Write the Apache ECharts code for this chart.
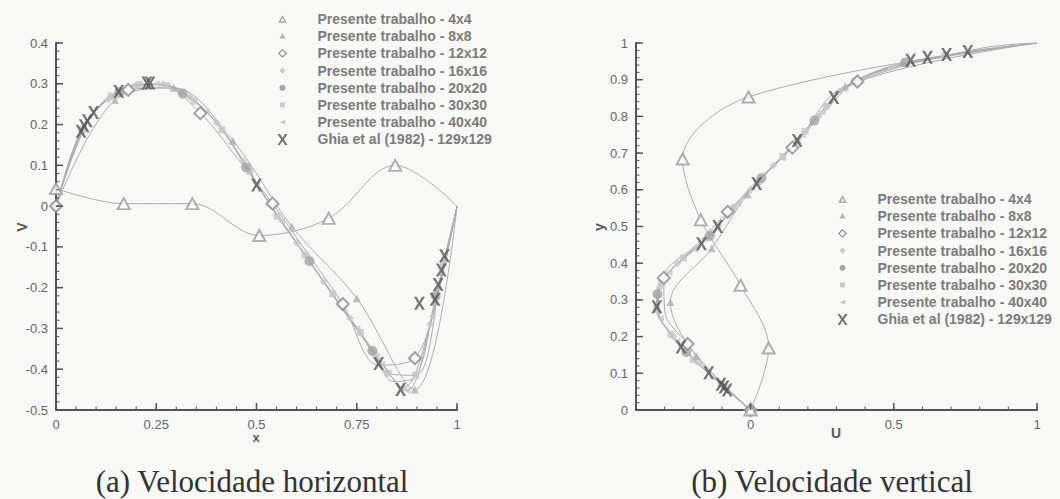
<!DOCTYPE html>
<html>
<head>
<meta charset="utf-8">
<script src="https://cdn.jsdelivr.net/npm/echarts@6/dist/echarts.min.js"></script>
<style>
html,body{margin:0;padding:0;background:#f8f8f6;}
#c{width:1060px;height:499px;}
</style>
</head>
<body>
<div id="c"></div>
<script>
// ================= DATA =================
const seriesNames = [
  'Presente trabalho - 4x4',
  'Presente trabalho - 8x8',
  'Presente trabalho - 12x12',
  'Presente trabalho - 16x16',
  'Presente trabalho - 20x20',
  'Presente trabalho - 30x30',
  'Presente trabalho - 40x40',
  'Ghia et al (1982) - 129x129'
];

// (a) horizontal centreline: x -> V
const x4  = [0, 0.169, 0.34, 0.507, 0.68, 0.846, 1];
const v4  = [0.043, 0.006, 0.006, -0.072, -0.03, 0.10, 0];
const x8  = [0, 0.147, 0.294, 0.441, 0.588, 0.75, 0.895, 1];
const v8  = [0, 0.26, 0.29, 0.16, -0.05, -0.226, -0.45, 0];
const x12 = [0, 0.09, 0.18, 0.27, 0.36, 0.45, 0.54, 0.63, 0.715, 0.805, 0.895, 0.985, 1];
const v12 = [0, 0.225, 0.285, 0.29, 0.228, 0.12, 0.006, -0.12, -0.24, -0.39, -0.373, -0.07, 0];
const x16 = [0, 0.067, 0.133, 0.2, 0.267, 0.333, 0.4, 0.467, 0.533, 0.6, 0.667, 0.733, 0.8, 0.867, 0.933, 1];
const v16 = [0, 0.19, 0.265, 0.296, 0.298, 0.268, 0.205, 0.11, 0.005, -0.09, -0.185, -0.275, -0.365, -0.445, -0.29, 0];
const x20 = [0, 0.053, 0.105, 0.158, 0.211, 0.263, 0.316, 0.368, 0.421, 0.474, 0.526, 0.579, 0.632, 0.684, 0.737, 0.789, 0.842, 0.895, 0.947, 1];
const v20 = [0, 0.165, 0.24, 0.28, 0.299, 0.299, 0.276, 0.24, 0.178, 0.095, 0.015, -0.06, -0.135, -0.21, -0.285, -0.355, -0.43, -0.42, -0.22, 0];
const x30 = [0, 0.069, 0.138, 0.207, 0.276, 0.345, 0.414, 0.483, 0.552, 0.621, 0.69, 0.759, 0.828, 0.897, 0.966, 1];
const v30 = [0, 0.19, 0.27, 0.298, 0.296, 0.258, 0.187, 0.085, -0.025, -0.12, -0.215, -0.31, -0.41, -0.415, -0.14, 0];
const x40 = [0, 0.0625, 0.125, 0.1875, 0.25, 0.3125, 0.375, 0.4375, 0.5, 0.5625, 0.625, 0.6875, 0.75, 0.8125, 0.875, 0.9375, 1];
const v40 = [0, 0.185, 0.26, 0.294, 0.30, 0.28, 0.232, 0.155, 0.055, -0.037, -0.125, -0.213, -0.30, -0.388, -0.452, -0.27, 0];
const xGhia = [0.0625, 0.0703, 0.0781, 0.0938, 0.1563, 0.2266, 0.2344, 0.5, 0.8047, 0.8594, 0.9063, 0.9453, 0.9531, 0.9609, 0.9688];
const vGhia = [0.1836, 0.1971, 0.2092, 0.2297, 0.2812, 0.3020, 0.3017, 0.0519, -0.3860, -0.4499, -0.2383, -0.2285, -0.1925, -0.1566, -0.1215];

// (b) vertical centreline: y -> U
const y4  = [0, 0.169, 0.34, 0.518, 0.684, 0.853, 1];
const u4  = [0, 0.063, -0.035, -0.174, -0.237, -0.007, 1];
const y8  = [0, 0.147, 0.294, 0.441, 0.588, 0.735, 0.882, 1];
const u8  = [0, -0.19, -0.28, -0.135, -0.01, 0.165, 0.33, 1];
const y12 = [0, 0.09, 0.18, 0.27, 0.36, 0.45, 0.54, 0.63, 0.715, 0.805, 0.895, 0.985, 1];
const u12 = [0, -0.12, -0.22, -0.30, -0.303, -0.19, -0.08, 0.03, 0.146, 0.25, 0.373, 0.8, 1];
const y16 = [0, 0.067, 0.133, 0.2, 0.267, 0.333, 0.4, 0.467, 0.533, 0.6, 0.667, 0.733, 0.8, 0.867, 0.933, 1];
const u16 = [0, -0.1, -0.19, -0.27, -0.322, -0.318, -0.255, -0.155, -0.08, 0.0, 0.08, 0.16, 0.235, 0.31, 0.49, 1];
const y20 = [0, 0.053, 0.105, 0.158, 0.211, 0.263, 0.316, 0.368, 0.421, 0.474, 0.526, 0.579, 0.632, 0.684, 0.737, 0.789, 0.842, 0.895, 0.947, 1];
const u20 = [0, -0.079, -0.152, -0.224, -0.28, -0.322, -0.325, -0.295, -0.222, -0.143, -0.086, -0.025, 0.038, 0.105, 0.166, 0.223, 0.281, 0.36, 0.54, 1];
const y30 = [0, 0.069, 0.138, 0.207, 0.276, 0.345, 0.414, 0.483, 0.552, 0.621, 0.69, 0.759, 0.828, 0.897, 0.966, 1];
const u30 = [0, -0.102, -0.2, -0.278, -0.328, -0.312, -0.235, -0.135, -0.058, 0.025, 0.112, 0.19, 0.265, 0.365, 0.68, 1];
const y40 = [0, 0.0625, 0.125, 0.1875, 0.25, 0.3125, 0.375, 0.4375, 0.5, 0.5625, 0.625, 0.6875, 0.75, 0.8125, 0.875, 0.9375, 1];
const u40 = [0, -0.093, -0.18, -0.258, -0.315, -0.328, -0.285, -0.195, -0.115, -0.045, 0.03, 0.11, 0.18, 0.25, 0.325, 0.5, 1];
const yGhia = [0.0547, 0.0625, 0.0703, 0.1016, 0.1719, 0.2813, 0.4531, 0.5, 0.6172, 0.7344, 0.8516, 0.9531, 0.9609, 0.9688, 0.9766];
const uGhia = [-0.0819, -0.0927, -0.1034, -0.1461, -0.2430, -0.3273, -0.1712, -0.1148, 0.0214, 0.1626, 0.2909, 0.5589, 0.6176, 0.6844, 0.7584];

// ticks / labels
const xTicksLeft = [0, 0.25, 0.5, 0.75, 1];
const vTicksLeft = [-0.5, -0.4, -0.3, -0.2, -0.1, 0, 0.1, 0.2, 0.3, 0.4];
const uTicksRight = [0, 0.5, 1];
const yTicksRight = [0, 0.1, 0.2, 0.3, 0.4, 0.5, 0.6, 0.7, 0.8, 0.9, 1];
const axisNames = {a: ['x', 'V'], b: ['U', 'y']};
const captions = ['(a) Velocidade horizontal', '(b) Velocidade vertical'];

// ================= STYLE =================
const BG = '#f8f8f6';
const AX = '#555';
const X_PATH = 'path://M0,0L3,0L6,4.6L9,0L12,0L7.6,6.5L12,13L9,13L6,8.4L3,13L0,13L4.4,6.5Z';
const meshStyles = [
  {symbol: 'emptyTriangle', size: [12, 11], color: '#9c9c9c', skip: 1, z: 6,
   legendIcon: 'path://M0,0M16,16M8,2.5L14,13.5L2,13.5ZM8,6.26L5.04,11.7L10.96,11.7Z'},
  {symbol: 'triangle', size: 8, color: '#b2b2b2', skip: 1, z: 4,
   legendIcon: 'path://M0,0M16,16M8,3.5L12.5,11.5L3.5,11.5Z'},
  {symbol: 'emptyDiamond', size: 12, color: '#8c8c8c', skip: 2, z: 5,
   legendIcon: 'path://M0,0M16,16M8,1.5L14.5,8L8,14.5L1.5,8ZM8,3.76L3.76,8L8,12.24L12.24,8Z'},
  {symbol: 'diamond', size: 8, color: '#c8c8c8', skip: 1, z: 3,
   legendIcon: 'path://M0,0M16,16M8,3.5L12.5,8L8,12.5L3.5,8Z'},
  {symbol: 'circle', size: 10, color: '#a4a4a4', skip: 3, z: 4,
   legendIcon: 'path://M0,0M16,16M8,3.5L11.2,4.8L12.5,8L11.2,11.2L8,12.5L4.8,11.2L3.5,8L4.8,4.8Z'},
  {symbol: 'rect', size: 7, color: '#c6c6c6', skip: 1, z: 3,
   legendIcon: 'path://M0,0M16,16M4.5,4.5L11.5,4.5L11.5,11.5L4.5,11.5Z'},
  {symbol: 'path://M10,0L0,5L10,10Z', size: 7, color: '#c8c8c8', skip: 1, z: 3,
   legendIcon: 'path://M0,0M16,16M12,4.5L4,8L12,11.5Z'}
];
const ghiaStyle = {symbol: X_PATH, size: [11, 13], color: '#555555', legendIcon: X_PATH};

const leftX = [x4, x8, x12, x16, x20, x30, x40];
const leftV = [v4, v8, v12, v16, v20, v30, v40];
const rightY = [y4, y8, y12, y16, y20, y30, y40];
const rightU = [u4, u8, u12, u16, u20, u30, u40];

function zip(a, b) { return a.map((v, i) => [v, b[i]]); }
function steps(from, to, step) {
  const out = [];
  const n = Math.round((to - from) / step);
  for (let k = 0; k <= n; k++) out.push(+(from + k * step).toFixed(4));
  return out;
}

// ---------- series: curves (lines) + markers (scatter) ----------
const series = [];
const drawOrder = [3, 5, 6, 1, 4, 2, 0];
[0, 1].forEach(panel => {
  drawOrder.forEach(i => {
    const st = meshStyles[i];
    const pts = panel === 0 ? zip(leftX[i], leftV[i]) : zip(rightU[i], rightY[i]);
    series.push({
      type: 'line',
      name: seriesNames[i],
      xAxisIndex: panel,
      yAxisIndex: panel,
      data: pts,
      smooth: 0.35,
      symbol: 'none',
      showSymbol: false,
      lineStyle: {color: '#adadad', width: 1},
      itemStyle: {color: st.color},
      z: 2
    });
    // markers every `skip` points, not on the clipped right/top boundary
    series.push({
      type: 'scatter',
      name: seriesNames[i],
      xAxisIndex: panel,
      yAxisIndex: panel,
      data: pts.filter((p, k) => k % st.skip === 0 && p[0] < 1),
      symbol: st.symbol,
      symbolSize: st.size,
      itemStyle: {color: st.color},
      z: st.z
    });
  });
  series.push({
    type: 'scatter',
    name: seriesNames[7],
    xAxisIndex: panel,
    yAxisIndex: panel,
    data: panel === 0 ? zip(xGhia, vGhia) : zip(uGhia, yGhia),
    symbol: ghiaStyle.symbol,
    symbolSize: ghiaStyle.size,
    itemStyle: {color: ghiaStyle.color},
    z: 8
  });
});

// ---------- ticks drawn through the axes' own scales ----------
let renderCount = 0;
const tickSets = [
  {panel: 0, dir: 'x', values: xTicksLeft, base: -0.5, len: 7, width: 1.5},
  {panel: 0, dir: 'x', values: steps(0, 1, 0.05), base: -0.5, len: 3.5, width: 1},
  {panel: 0, dir: 'y', values: vTicksLeft, base: 0, len: 7, width: 1.5},
  {panel: 0, dir: 'y', values: steps(-0.5, 0.4, 0.02), base: 0, len: 3.5, width: 1},
  {panel: 1, dir: 'x', values: uTicksRight, base: 0, len: 7, width: 1.5},
  {panel: 1, dir: 'x', values: steps(-0.4, 1, 0.1), base: 0, len: 3.5, width: 1},
  {panel: 1, dir: 'y', values: yTicksRight, base: -0.4, len: 7, width: 1.5},
  {panel: 1, dir: 'y', values: steps(0, 1, 0.02), base: -0.4, len: 3.5, width: 1}
];
function tickShape(p, dir, len) {
  return dir === 'x'
    ? {x1: p[0], y1: p[1], x2: p[0], y2: p[1] - len}
    : {x1: p[0], y1: p[1], x2: p[0] + len, y2: p[1]};
}
tickSets.forEach(t => {
  series.push({
    type: 'custom',
    xAxisIndex: t.panel, yAxisIndex: t.panel, z: 20,
    data: t.values.map(v => (t.dir === 'x' ? [v, t.base] : [t.base, v])),
    renderItem: function (params, api) {
      renderCount++;
      const p = api.coord([api.value(0), api.value(1)]);
      return {type: 'line', shape: tickShape(p, t.dir, t.len), style: {stroke: AX, lineWidth: t.width}};
    }
  });
});
const expectedTicks = tickSets.reduce((s, t) => s + t.values.length, 0);

// ---------- axes ----------
function mainAxis(extra) {
  return Object.assign({
    type: 'value',
    axisLine: {show: true, onZero: false, lineStyle: {color: AX, width: 2}},
    axisTick: {show: false},
    splitLine: {show: false},
    axisLabel: {color: '#666', fontSize: 13}
  }, extra);
}

const nameFont = {fontSize: 14, fontWeight: 'bold', fill: '#5a5a5a', align: 'center', verticalAlign: 'middle'};
const texts = [
  {type: 'text', x: 252, y: 497, style: {text: captions[0], fontSize: 31, fontFamily: 'Liberation Serif', fill: '#333', align: 'center', verticalAlign: 'bottom'}},
  {type: 'text', x: 832, y: 497, style: {text: captions[1], fontSize: 31, fontFamily: 'Liberation Serif', fill: '#333', align: 'center', verticalAlign: 'bottom'}},
  {type: 'text', x: 256, y: 437, style: Object.assign({}, nameFont, {text: axisNames.a[0], fontSize: 13})},
  {type: 'text', x: 22, y: 227, rotation: Math.PI / 2, style: Object.assign({}, nameFont, {text: axisNames.a[1]})},
  {type: 'text', x: 836, y: 433, style: Object.assign({}, nameFont, {text: axisNames.b[0]})},
  {type: 'text', x: 599, y: 227, rotation: Math.PI / 2, style: Object.assign({}, nameFont, {text: axisNames.b[1]})}
];

const legendData = seriesNames.map((n, i) => {
  const st = i < 7 ? meshStyles[i] : ghiaStyle;
  return {name: n, icon: st.legendIcon, itemStyle: {color: st.color}};
});

const option = {
  backgroundColor: BG,
  animation: false,
  grid: [
    {left: 56, top: 43, width: 401, height: 367},
    {left: 636, top: 43, width: 401, height: 367}
  ],
  xAxis: [
    mainAxis({gridIndex: 0, min: 0, max: 1, interval: 0.25}),
    mainAxis({gridIndex: 1, min: -0.4, max: 1, interval: 0.1,
      axisLabel: {color: '#666', fontSize: 13,
        formatter: function (v) { return Math.abs(v * 2 - Math.round(v * 2)) < 1e-6 ? String(+v.toFixed(2)) : ''; }}})
  ],
  yAxis: [
    mainAxis({gridIndex: 0, min: -0.5, max: 0.4, interval: 0.1}),
    mainAxis({gridIndex: 1, min: 0, max: 1, interval: 0.1})
  ],
  legend: [0, 1].map(k => ({
    left: k === 0 ? 272 : 832,
    top: k === 0 ? 7 : 187,
    orient: 'vertical', itemWidth: 60, itemHeight: 11, itemGap: 3.2, selectedMode: false,
    textStyle: {color: '#7c7c7c', fontSize: 14, fontWeight: 'bold', fontFamily: 'Liberation Sans', lineHeight: 14},
    data: legendData
  })),
  graphic: texts,
  series: series
};

const chart = echarts.init(document.getElementById('c'), null, {renderer: 'svg'});
let ok = true;
try { chart.setOption(option); } catch (e) { ok = false; }

// fallback: if tick series did not render, draw the same ticks as graphic lines
if (!ok || renderCount < expectedTicks) {
  try {
    const lines = [];
    tickSets.forEach(t => t.values.forEach(v => {
      const p = chart.convertToPixel({xAxisIndex: t.panel, yAxisIndex: t.panel}, t.dir === 'x' ? [v, t.base] : [t.base, v]);
      lines.push({type: 'line', silent: true, z: 60, shape: tickShape(p, t.dir, t.len), style: {stroke: AX, lineWidth: t.width}});
    }));
    chart.setOption({graphic: texts.concat(lines)});
  } catch (e) {}
}
</script>
</body>
</html>
